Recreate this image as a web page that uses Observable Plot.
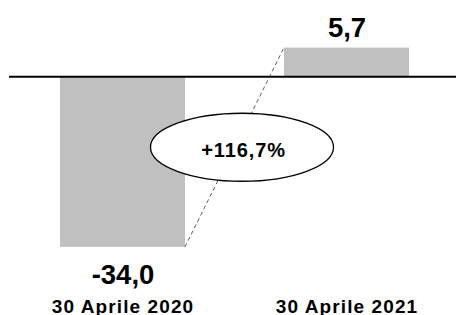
<!DOCTYPE html>
<html>
<head>
<meta charset="utf-8">
<script src="https://cdn.jsdelivr.net/npm/d3@7"></script>
<script src="https://cdn.jsdelivr.net/npm/@observablehq/plot@0.6"></script>
<style>
  html, body { margin: 0; padding: 0; background: #fff; }
  #chart svg { display: block; font-family: "Liberation Sans", Arial, sans-serif; }
</style>
</head>
<body>
<div id="chart"></div>
<script>
const categories = ["30 Aprile 2020", "30 Aprile 2021"];
const values = [-34.0, 5.7];
const valueLabels = ["-34,0", "5,7"];
const changeLabel = "+116,7%";

const data = categories.map((c, i) => ({cat: c, value: values[i], label: valueLabels[i]}));

function connector(index, scales, vals, dimensions, context) {
  const x = scales.x, y = scales.y;
  const bw = typeof x.bandwidth === "function" ? x.bandwidth() : x.bandwidth;
  const x1 = x(categories[0]) + bw, y1 = y(values[0]);
  const x2 = x(categories[1]), y2 = y(values[1]);
  const g = d3.create("svg:g");
  g.append("line")
    .attr("x1", x1).attr("y1", y1).attr("x2", x2).attr("y2", y2)
    .attr("stroke", "#333").attr("stroke-width", 0.8)
    .attr("stroke-dasharray", "4,3");
  const cx = (x1 + x2) / 2 + 7.5, cy = (y1 + y2) / 2;
  g.append("ellipse")
    .attr("cx", cx).attr("cy", cy).attr("rx", 91.5).attr("ry", 34)
    .attr("fill", "#fff").attr("stroke", "#000").attr("stroke-width", 1.3);
  g.append("text")
    .attr("x", cx + 1.5).attr("y", cy + 10)
    .attr("text-anchor", "middle")
    .style("font-size", "20px").style("font-weight", "bold")
    .style("font-family", "'Liberation Sans', Arial, sans-serif")
    .style("letter-spacing", "0.9px")
    .attr("fill", "#000")
    .text(changeLabel);
  return g.node();
}

const chart = Plot.plot({
  width: 456,
  height: 315,
  marginLeft: 9,
  marginRight: 0,
  marginTop: 26,
  marginBottom: 38,
  x: {domain: categories, paddingInner: 0.444, paddingOuter: 0.2155, align: 0.515, axis: null},
  y: {domain: [-40, 10], axis: null},
  style: {fontFamily: "Liberation Sans, Arial, sans-serif"},
  marks: [
    Plot.barY(data, {x: "cat", y: "value", fill: "#c0c0c0"}),
    Plot.ruleY([0], {stroke: "#000", strokeWidth: 2}),
    connector,
    Plot.text(data.filter(d => d.value >= 0), {x: "cat", y: "value", text: "label", dy: -20, fontSize: 27.5, fontWeight: "bold", fill: "#000"}),
    Plot.text(data.filter(d => d.value < 0), {x: "cat", y: "value", text: "label", dy: 27.5, fontSize: 27.5, fontWeight: "bold", fill: "#000"}),
    Plot.text(data, {x: "cat", text: "cat", frameAnchor: "bottom", dy: 35, fontSize: 19, fontWeight: "bold", fill: "#000"})
  ]
});
d3.select(chart).selectAll("text")
  .filter(function() { return categories.includes(this.textContent); })
  .style("letter-spacing", "1.1px");
document.getElementById("chart").appendChild(chart);
</script>
</body>
</html>
